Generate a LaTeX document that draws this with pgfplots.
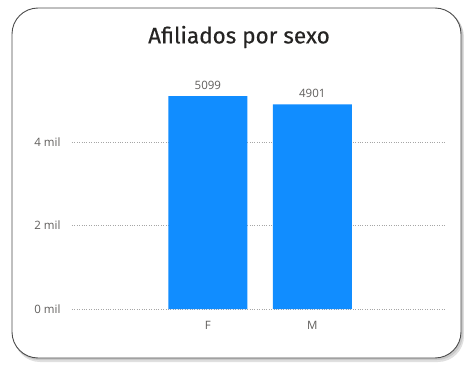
\documentclass[border=0pt]{standalone}
\usepackage{pgfplots}
\pgfplotsset{compat=1.18}
\usepackage{fontspec}
\setmainfont{Open Sans}
\newfontfamily\titlefont[FakeBold=0.3]{Fira Sans}
\definecolor{barblue}{HTML}{118DFF}
\definecolor{lblgray}{HTML}{605E5C}
\definecolor{titlegray}{HTML}{252423}
\begin{document}
\begin{tikzpicture}[x=1pt,y=1pt]
\useasboundingbox (0,0) rectangle (464,368);
% card shadow and card
\fill[black,opacity=0.12,rounded corners=26pt] (14,6) rectangle (464,357);
\fill[black,opacity=0.10,rounded corners=26pt] (13,8) rectangle (463,359);
\draw[fill=white,draw=black!70,line width=0.9pt,rounded corners=26pt] (12,10) rectangle (461,360);
\node[anchor=center,text=titlegray,font=\titlefont\fontsize{22.5}{26}\selectfont] at (239,331) {Afiliados por sexo};
\begin{axis}[
  at={(72pt,59pt)}, anchor=south west,
  scale only axis,
  width=373pt, height=250.5pt,
  xmin=-1.3, xmax=2.27,
  ymin=0, ymax=6000,
  axis line style={draw=none},
  ybar, bar width=79pt,
  xtick={0,1}, xticklabels={F,M},
  ytick={0,2000,4000},
  yticklabels={0 mil,2 mil,4 mil},
  ymajorgrids,
  grid style={draw=black!35,dotted,line width=0.6pt},
  tick style={draw=none},
  ticklabel style={text=lblgray,font=\fontsize{11.5}{13}\selectfont},
  yticklabel style={anchor=east,xshift=-8pt},
  xticklabel style={yshift=-4pt},
  nodes near coords,
  nodes near coords style={text=lblgray,font=\fontsize{11.5}{13}\selectfont,yshift=3pt},
  point meta=explicit symbolic,
  clip=false,
]
\addplot[fill=barblue,draw=none] coordinates {(0,5099)[5099] (1,4901)[4901]};
\end{axis}
\end{tikzpicture}
\end{document}
